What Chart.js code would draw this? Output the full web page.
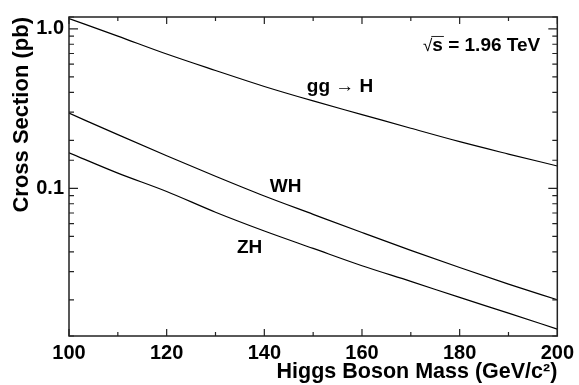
<!DOCTYPE html>
<html>
<head>
<meta charset="utf-8">
<script src="https://cdn.jsdelivr.net/npm/chart.js@4/dist/chart.umd.min.js"></script>
<style>
  body { margin: 0; background: #fff; }
  canvas { display: block; }
</style>
</head>
<body>
<canvas id="xsecChart" width="579" height="385"></canvas>
<script>
// Higgs mass points (GeV/c^2)
const masses = [100, 110, 120, 130, 140, 150, 160, 170, 180, 190, 200];
// cross sections in pb
const ggH = [1.16, 0.90, 0.695, 0.548, 0.435, 0.353, 0.290, 0.238, 0.196, 0.164, 0.138];
const WH  = [0.296, 0.217, 0.160, 0.119, 0.0895, 0.0687, 0.0528, 0.0408, 0.0319, 0.0251, 0.0200];
const ZH  = [0.167, 0.1245, 0.0955, 0.0708, 0.054, 0.042, 0.0327, 0.0261, 0.0207, 0.0165, 0.0131];

// labels placed on the plot, anchored in data coordinates
const curveLabels = [
    { text: "gg \u2192 H", x: 148.7, y: 0.403, align: "left" },
    { text: "WH", x: 141.1, y: 0.0944, align: "left" },
    { text: "ZH", x: 134.4, y: 0.0392, align: "left" }
];

const FONT = "'Liberation Sans', Arial, sans-serif";

function toPoints(ys) {
    return masses.map((m, i) => ({ x: m, y: ys[i] }));
}

function lineSet(label, ys) {
    return {
        label: label,
        data: toPoints(ys),
        borderColor: "#000",
        borderWidth: 1.2,
        pointRadius: 0,
        fill: false,
        cubicInterpolationMode: "monotone"
    };
}

// draws the inward ticks on all four sides, the frame and the text labels
const framePlugin = {
    id: "frame",
    afterDatasetsDraw(chart) {
        const ctx = chart.ctx;
        const a = chart.chartArea;
        const xs = chart.scales.x;
        const ys = chart.scales.y;
        ctx.save();
        ctx.strokeStyle = "#222";
        ctx.lineWidth = 1.5;
        ctx.strokeRect(a.left, a.top, a.right - a.left, a.bottom - a.top);

        ctx.lineWidth = 1.2;
        ctx.beginPath();
        xs.ticks.forEach(t => {
            const px = xs.getPixelForValue(t.value);
            const len = (t.value % 20 === 0) ? 7 : 4;
            ctx.moveTo(px, a.bottom); ctx.lineTo(px, a.bottom - len);
            ctx.moveTo(px, a.top); ctx.lineTo(px, a.top + len);
        });
        ys.ticks.forEach(t => {
            if (t.value < ys.min || t.value > ys.max) return;
            const py = ys.getPixelForValue(t.value);
            const lg = Math.log10(t.value);
            const len = Math.abs(lg - Math.round(lg)) < 1e-6 ? 9 : 5;
            ctx.moveTo(a.left, py); ctx.lineTo(a.left + len, py);
            ctx.moveTo(a.right, py); ctx.lineTo(a.right - len, py);
        });
        ctx.stroke();

        ctx.fillStyle = "#000";
        ctx.font = "bold 19px " + FONT;
        ctx.textBaseline = "alphabetic";
        curveLabels.forEach(l => {
            ctx.textAlign = l.align;
            ctx.fillText(l.text, xs.getPixelForValue(l.x), ys.getPixelForValue(l.y));
        });

        // sqrt(s) label, right aligned
        const rx = xs.getPixelForValue(196.5);
        const by = ys.getPixelForValue(0.721);
        const rest = "s = 1.96 TeV";
        ctx.textAlign = "right";
        ctx.fillText(rest, rx, by);
        const restW = ctx.measureText(rest).width;
        const sW = ctx.measureText("s").width;
        ctx.font = "17px " + FONT;
        ctx.fillText("\u221A", rx - restW, by);
        ctx.beginPath();
        ctx.lineWidth = 1;
        ctx.moveTo(rx - restW - 1, by - 15);
        ctx.lineTo(rx - restW + sW + 1, by - 15);
        ctx.stroke();
        ctx.restore();
    }
};

new Chart(document.getElementById("xsecChart"), {
    type: "line",
    data: {
        datasets: [
            lineSet("gg \u2192 H", ggH),
            lineSet("WH", WH),
            lineSet("ZH", ZH)
        ]
    },
    options: {
        responsive: false,
        animation: false,
        devicePixelRatio: 1,
        layout: { padding: { top: 12, right: 21, left: 0, bottom: 0 } },
        plugins: {
            legend: { display: false },
            tooltip: { enabled: false }
        },
        scales: {
            x: {
                type: "linear",
                min: 100,
                max: 200,
                grid: { display: false, drawTicks: false },
                border: { display: false },
                ticks: {
                    stepSize: 10,
                    autoSkip: false,
                    maxRotation: 0,
                    padding: 5,
                    color: "#000",
                    font: { family: FONT, size: 20, weight: "bold" },
                    callback: v => (v % 20 === 0 ? String(v) : "")
                },
                title: {
                    display: true,
                    text: "Higgs Boson Mass (GeV/c\u00B2)",
                    align: "end",
                    color: "#000",
                    font: { family: FONT, size: 21.5, weight: "bold" },
                    padding: { top: 0, bottom: 0 }
                },
                afterFit: s => { s.height = 49; }
            },
            y: {
                type: "logarithmic",
                min: 0.01186,
                max: 1.186,
                grid: { display: false, drawTicks: false },
                border: { display: false },
                ticks: {
                    autoSkip: false,
                    padding: 5,
                    color: "#000",
                    font: { family: FONT, size: 20, weight: "bold" },
                    callback: v => {
                        if (Math.abs(v - 1) < 1e-9) return "1.0";
                        if (Math.abs(v - 0.1) < 1e-9) return "0.1";
                        return "";
                    }
                },
                title: {
                    display: true,
                    text: "Cross Section (pb)",
                    align: "end",
                    color: "#000",
                    font: { family: FONT, size: 22, weight: "bold" },
                    padding: { top: 9, bottom: 0 }
                },
                afterFit: s => { s.width = 69; }
            }
        }
    },
    plugins: [framePlugin]
});
</script>
</body>
</html>
